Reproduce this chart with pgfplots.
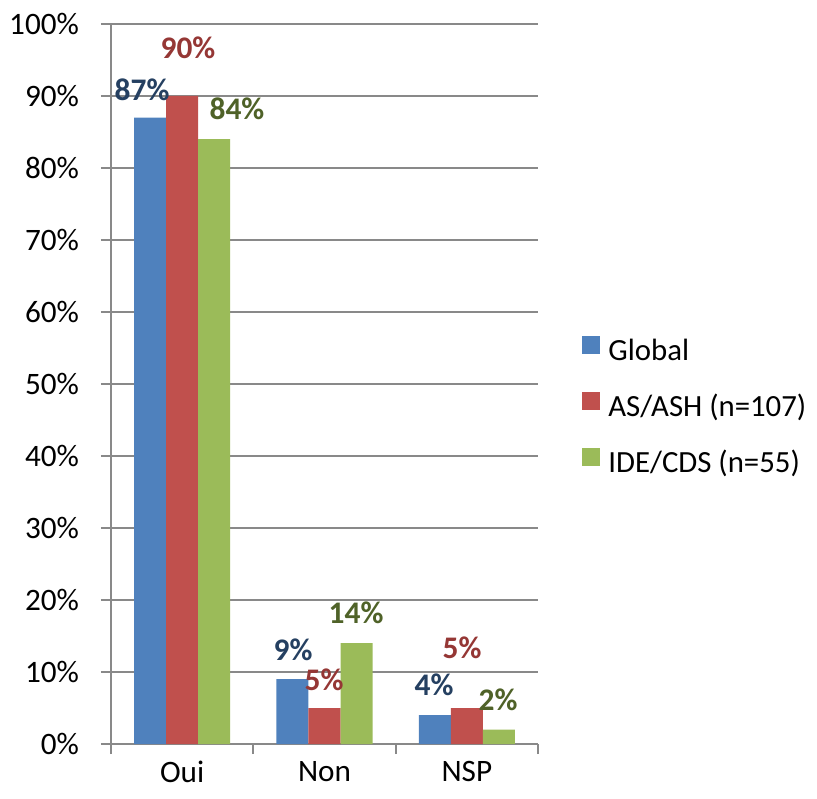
\documentclass[border=0pt]{standalone}
\usepackage{pgfplots}
\pgfplotsset{compat=1.18}
\usepackage{fontspec}
\setmainfont{Carlito}
\definecolor{cBlue}{HTML}{4F81BD}
\definecolor{cRed}{HTML}{C0504D}
\definecolor{cGreen}{HTML}{9BBB59}
\definecolor{lBlue}{HTML}{254061}
\definecolor{lRed}{HTML}{953735}
\definecolor{lGreen}{HTML}{4F6228}
\definecolor{gridgray}{HTML}{898989}
\begin{document}
\begin{tikzpicture}
\path[use as bounding box] (-55.5pt,-27pt) rectangle (353pt,372pt);
\begin{axis}[
 at={(0,0)}, anchor=south west,
 scale only axis, width=213.5pt, height=360pt,
 ybar=0pt, bar width=0.225,
 xmin=-0.5, xmax=2.5, ymin=0, ymax=100,
 xtick={-0.5,0.5,1.5,2.5}, x tick label as interval,
 xticklabels={Oui,Non,NSP},
 ytick={0,10,...,100},
 yticklabels={0\%,10\%,20\%,30\%,40\%,50\%,60\%,70\%,80\%,90\%,100\%},
 axis x line*=bottom, axis y line*=left,
 axis line style={draw=gridgray, line width=1pt, -},
 ymajorgrids, grid style={draw=gridgray, line width=1pt},
 tick align=outside, major tick length=5pt,
 tick style={draw=gridgray, line width=1pt},
 ticklabel style={font=\fontsize{15.6}{18}\selectfont},
 yticklabel style={xshift=-7.5pt},
 legend style={draw=none, fill=none, inner sep=0pt,
   at={(axis description cs:1.103,0.468)}, anchor=west,
   nodes={inner sep=0pt, text height=10pt, text depth=3pt},
   row sep=12.5pt, column sep=4pt,
   font=\fontsize{15.4}{18}\selectfont},
 legend cell align=left,
 legend image code/.code={\fill[#1] (0pt,0pt) rectangle (9pt,9pt);},
]
\addplot[fill=cBlue, draw=none] coordinates {(0,87) (1,9) (2,4)};
\addplot[fill=cRed, draw=none] coordinates {(0,90) (1,5) (2,5)};
\addplot[fill=cGreen, draw=none] coordinates {(0,84) (1,14) (2,2)};
\legend{Global,AS/ASH (n=107),IDE/CDS (n=55)}
\begin{scope}[every node/.style={font=\bfseries\fontsize{15.7}{18}\selectfont}]
\node[text=lBlue] at (axis cs:-0.282,90.8) {87\%};
\node[text=lRed] at (axis cs:0.041,96.7) {90\%};
\node[text=lGreen] at (axis cs:0.385,88.2) {84\%};
\node[text=lBlue] at (axis cs:0.779,13.1) {9\%};
\node[text=lRed] at (axis cs:0.997,8.9) {5\%};
\node[text=lGreen] at (axis cs:1.222,18.2) {14\%};
\node[text=lBlue] at (axis cs:1.770,8.2) {4\%};
\node[text=lRed] at (axis cs:1.967,13.3) {5\%};
\node[text=lGreen] at (axis cs:2.220,6.1) {2\%};
\end{scope}
\end{axis}
\end{tikzpicture}
\end{document}
